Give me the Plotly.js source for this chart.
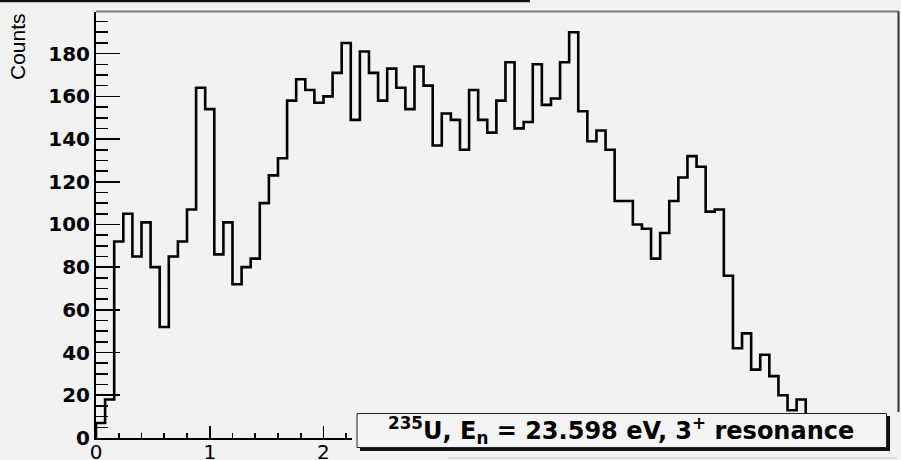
<!DOCTYPE html>
<html>
<head>
<meta charset="utf-8">
<script src="https://cdn.plot.ly/plotly-3.0.1.min.js"></script>
<style>html,body{margin:0;padding:0;background:#f2f2f2;}#chart{width:901px;height:460px;}</style>
</head>
<body>
<div id="chart"></div>
<script>
// ---- data ----
const binWidth = 0.08;
const counts = [7, 18, 92, 105, 85, 101, 80, 52, 85, 92,
  107, 164, 154, 86, 101, 72, 80, 84, 110, 123,
  131, 158, 168, 163, 157, 160, 171, 185, 149, 181,
  171, 158, 173, 164, 154, 174, 165, 137, 152, 149,
  135, 163, 149, 143, 158, 176, 145, 148, 175, 156,
  159, 176, 190, 153, 139, 144, 135, 111, 111, 100,
  98, 84, 96, 111, 122, 132, 127, 106, 107, 76,
  42, 49, 32, 39, 29, 20, 13, 18];
const xTickVals = [0, 1, 2];
const xTickText = ['0', '1', '2'];
const yTickVals = [0, 20, 40, 60, 80, 100, 120, 140, 160, 180];
const yTickText = ['0', '20', '40', '60', '80', '100', '120', '140', '160', '180'];
const yTitle = 'Counts';
const legendText = '<sup>235</sup>U, E<sub>n</sub> = 23.598 eV, 3<sup>+</sup> resonance';

// step outline built from bin edges
const xs = [0];
const ys = [0];
for (let i = 0; i < counts.length; i++) { xs.push(i * binWidth); ys.push(counts[i]); }
xs.push(counts.length * binWidth); ys.push(0);

// pixel helpers for decorations (plot area: x 96..899, y 12..438)
const L = 96, R = 899, T = 12, B = 438;
const px = v => (v - L) / (R - L);
const py = v => (B - v) / (B - T);
const bg = '#f2f2f2';

const trace = {
  type: 'scatter', mode: 'lines', x: xs, y: ys,
  line: {shape: 'hv', color: '#000', width: 2.6},
  hoverinfo: 'skip', showlegend: false
};

const layout = {
  width: 901, height: 460,
  margin: {l: L, r: 901 - R, t: T, b: 460 - B, pad: 0},
  paper_bgcolor: bg, plot_bgcolor: bg,
  font: {family: 'DejaVu Sans', color: '#000'},
  showlegend: false,
  xaxis: {
    range: [0, 7.06], tickvals: xTickVals, ticktext: xTickText,
    ticks: 'inside', ticklen: 12, tickwidth: 1.6, tickcolor: '#000',
    ticklabelstandoff: -5,
    showline: true, linewidth: 2, linecolor: '#000',
    showgrid: false, zeroline: false,
    tickfont: {family: 'DejaVu Sans', size: 20, color: '#000'},
    minor: {dtick: 0.2, ticks: 'inside', ticklen: 5.5, tickwidth: 1.6, tickcolor: '#000', showgrid: false}
  },
  yaxis: {
    range: [0, 199.5], tickvals: yTickVals, ticktext: yTickText,
    ticks: 'inside', ticklen: 23.5, tickwidth: 1.6, tickcolor: '#000',
    showline: true, linewidth: 2, linecolor: '#000',
    showgrid: false, zeroline: false,
    tickfont: {family: 'DejaVu Sans', size: 20, weight: 'bold', color: '#000'},
    minor: {dtick: 5, ticks: 'inside', ticklen: 12, tickwidth: 1.6, tickcolor: '#000', showgrid: false}
  },
  shapes: [
    // remnant of title box border at the very top
    {type: 'line', xref: 'paper', yref: 'paper', x0: px(0), x1: px(530), y0: py(1), y1: py(1), line: {color: '#111', width: 2.5}, layer: 'above'},
    // frame top and right
    {type: 'line', xref: 'paper', yref: 'paper', x0: px(96), x1: px(899), y0: py(11.5), y1: py(11.5), line: {color: '#7a7a7a', width: 2}, layer: 'above'},
    {type: 'line', xref: 'paper', yref: 'paper', x0: px(898.5), x1: px(898.5), y0: py(11.5), y1: py(412), line: {color: '#333', width: 2}, layer: 'above'},
    // pave background covering lower right
    {type: 'rect', xref: 'paper', yref: 'paper', x0: px(352), x1: px(902), y0: py(413), y1: py(461), fillcolor: bg, line: {width: 0}, layer: 'above'},
    // shadow
    {type: 'rect', xref: 'paper', yref: 'paper', x0: px(360), x1: px(890), y0: py(416), y1: py(451), fillcolor: '#111', line: {width: 0}, layer: 'above'},
    // box
    {type: 'rect', xref: 'paper', yref: 'paper', x0: px(357), x1: px(886.5), y0: py(413.5), y1: py(447.5), fillcolor: '#f4f4f4', line: {color: '#222', width: 1}, layer: 'above'},
    // faint line below
    {type: 'line', xref: 'paper', yref: 'paper', x0: px(448), x1: px(897), y0: py(458), y1: py(458), line: {color: '#d6d6d6', width: 1.5}, layer: 'above'}
  ],
  annotations: [
    {text: yTitle, xref: 'paper', yref: 'paper', x: px(17.5), y: py(46.5), xanchor: 'center', yanchor: 'middle',
     textangle: -90, showarrow: false, font: {family: 'Liberation Sans', size: 21, color: '#000'}},
    {text: legendText, xref: 'paper', yref: 'paper', x: px(621), y: py(430.5), xanchor: 'center', yanchor: 'middle',
     showarrow: false, font: {family: 'DejaVu Sans', size: 24, weight: 'bold', color: '#000'}}
  ]
};

Plotly.newPlot('chart', [trace], layout, {staticPlot: true, displayModeBar: false});
</script>
</body>
</html>
